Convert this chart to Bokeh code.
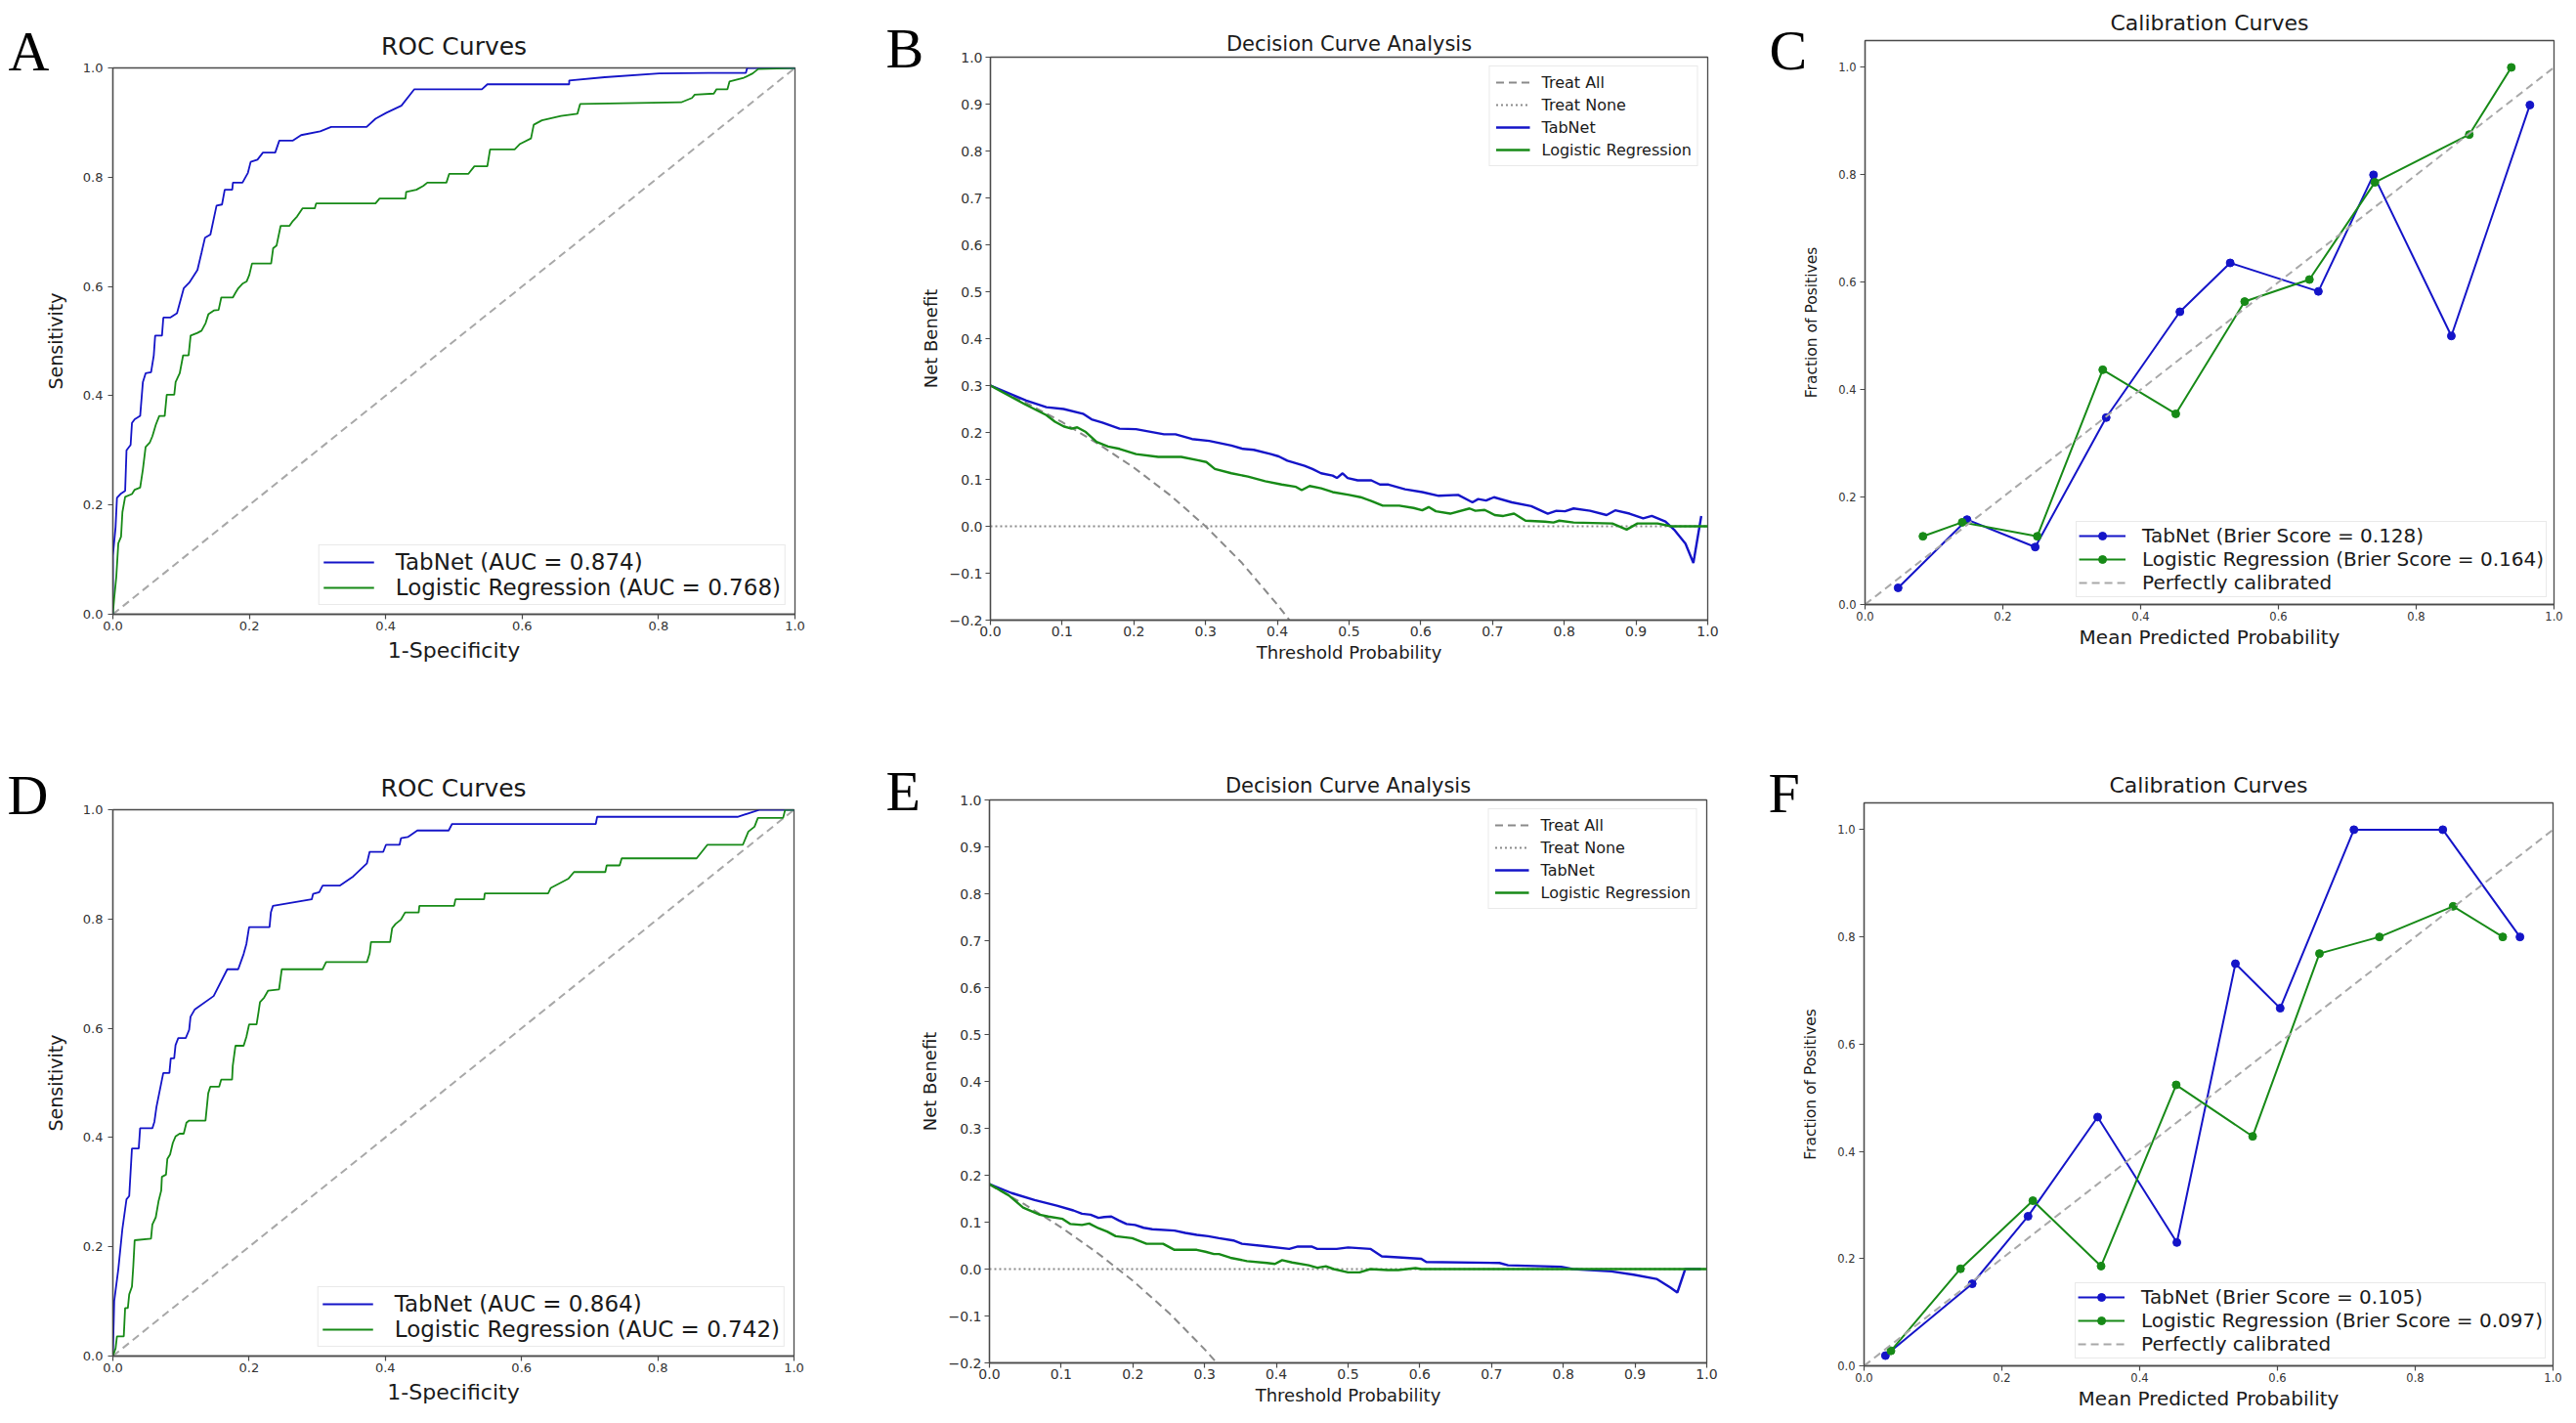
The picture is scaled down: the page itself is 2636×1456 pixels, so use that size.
from bokeh.plotting import figure
from bokeh.layouts import column, row
from bokeh.models import FixedTicker, CustomJSTickFormatter, Label, Range1d
from bokeh.embed import file_html
from bokeh.resources import INLINE

FONT = "DejaVu Sans"
SERIF = "Liberation Serif"
BLUE = "#1414c8"
GREEN = "#178a17"
GRAY = "#8a8a8a"
LIGHTGRAY = "#a8a8a8"
AXC = "#4a4a4a"

# ---------------- data ----------------
# Panel A: ROC (training)
rocA_tab_fpr = [0.000, 0.000, 0.004, 0.006, 0.012, 0.018, 0.020, 0.026, 0.028, 0.032,
                0.040, 0.044, 0.048, 0.056, 0.060, 0.062, 0.072, 0.074, 0.084, 0.094,
                0.104, 0.112, 0.124, 0.130, 0.135, 0.143, 0.152, 0.160, 0.164, 0.175,
                0.176, 0.190, 0.198, 0.202, 0.212, 0.220, 0.238, 0.244, 0.264, 0.276,
                0.304, 0.320, 0.372, 0.385, 0.401, 0.423, 0.442, 0.541, 0.549, 0.669,
                0.669, 0.721, 0.801, 0.873, 0.928, 0.930, 1.000]
rocA_tab_tpr = [0.000, 0.107, 0.160, 0.213, 0.221, 0.226, 0.300, 0.310, 0.350, 0.357,
                0.363, 0.425, 0.441, 0.443, 0.474, 0.510, 0.510, 0.543, 0.543, 0.551,
                0.597, 0.607, 0.630, 0.662, 0.689, 0.695, 0.748, 0.750, 0.777, 0.777,
                0.790, 0.790, 0.808, 0.828, 0.832, 0.845, 0.845, 0.867, 0.867, 0.877,
                0.884, 0.892, 0.892, 0.907, 0.918, 0.931, 0.961, 0.961, 0.970, 0.970,
                0.977, 0.983, 0.990, 0.991, 0.991, 1.000, 1.000]
rocA_lr_fpr = [0.000, 0.002, 0.005, 0.008, 0.012, 0.014, 0.018, 0.028, 0.032, 0.040,
               0.044, 0.048, 0.054, 0.058, 0.063, 0.068, 0.076, 0.079, 0.090, 0.092,
               0.098, 0.103, 0.111, 0.114, 0.124, 0.130, 0.136, 0.140, 0.148, 0.155,
               0.159, 0.176, 0.180, 0.184, 0.190, 0.196, 0.200, 0.204, 0.232, 0.235,
               0.240, 0.246, 0.259, 0.264, 0.270, 0.278, 0.296, 0.298, 0.385, 0.391,
               0.429, 0.430, 0.445, 0.455, 0.461, 0.489, 0.493, 0.521, 0.530, 0.549,
               0.553, 0.589, 0.597, 0.613, 0.617, 0.629, 0.657, 0.681, 0.685, 0.833,
               0.849, 0.853, 0.881, 0.885, 0.901, 0.904, 0.925, 0.938, 0.946, 1.000]
rocA_lr_tpr = [0.000, 0.030, 0.068, 0.130, 0.142, 0.187, 0.215, 0.220, 0.228, 0.232,
               0.265, 0.306, 0.314, 0.326, 0.347, 0.363, 0.363, 0.402, 0.402, 0.425,
               0.441, 0.474, 0.474, 0.510, 0.515, 0.519, 0.533, 0.549, 0.556, 0.557,
               0.580, 0.580, 0.589, 0.597, 0.605, 0.609, 0.621, 0.642, 0.642, 0.670,
               0.675, 0.711, 0.711, 0.720, 0.728, 0.743, 0.743, 0.752, 0.752, 0.761,
               0.761, 0.773, 0.777, 0.784, 0.790, 0.790, 0.806, 0.806, 0.820, 0.820,
               0.851, 0.851, 0.861, 0.871, 0.896, 0.904, 0.912, 0.916, 0.934, 0.937,
               0.945, 0.951, 0.953, 0.961, 0.961, 0.975, 0.982, 0.990, 0.998, 1.000]

# Panel D: ROC (validation)
rocD_tab_fpr = [0.000, 0.002, 0.008, 0.014, 0.020, 0.024, 0.028, 0.038, 0.040, 0.058,
                0.061, 0.064, 0.074, 0.083, 0.085, 0.090, 0.092, 0.096, 0.107, 0.112,
                0.114, 0.120, 0.148, 0.168, 0.184, 0.192, 0.196, 0.200, 0.230, 0.232,
                0.235, 0.292, 0.294, 0.303, 0.308, 0.333, 0.353, 0.373, 0.377, 0.397,
                0.401, 0.421, 0.423, 0.433, 0.447, 0.493, 0.498, 0.709, 0.711, 0.917,
                0.950, 1.000]
rocD_tab_tpr = [0.000, 0.101, 0.159, 0.233, 0.287, 0.293, 0.380, 0.380, 0.417, 0.417,
                0.429, 0.456, 0.518, 0.518, 0.545, 0.545, 0.569, 0.582, 0.582, 0.597,
                0.621, 0.634, 0.659, 0.708, 0.708, 0.736, 0.754, 0.785, 0.785, 0.812,
                0.824, 0.836, 0.846, 0.849, 0.861, 0.861, 0.878, 0.902, 0.923, 0.923,
                0.936, 0.936, 0.948, 0.950, 0.962, 0.962, 0.974, 0.974, 0.987, 0.987,
                1.000, 1.000]
rocD_lr_fpr = [0.000, 0.004, 0.006, 0.016, 0.018, 0.022, 0.024, 0.028, 0.030, 0.032,
               0.056, 0.058, 0.063, 0.067, 0.071, 0.072, 0.078, 0.080, 0.084, 0.088,
               0.092, 0.098, 0.104, 0.108, 0.112, 0.136, 0.140, 0.143, 0.156, 0.159,
               0.175, 0.176, 0.180, 0.192, 0.196, 0.200, 0.211, 0.214, 0.216, 0.222,
               0.228, 0.244, 0.248, 0.308, 0.313, 0.373, 0.377, 0.379, 0.407, 0.410,
               0.415, 0.423, 0.429, 0.449, 0.450, 0.501, 0.503, 0.545, 0.546, 0.639,
               0.643, 0.669, 0.677, 0.723, 0.725, 0.744, 0.747, 0.857, 0.873, 0.925,
               0.933, 0.942, 0.947, 0.984, 0.987, 1.000]
rocD_lr_tpr = [0.000, 0.014, 0.036, 0.036, 0.088, 0.088, 0.113, 0.127, 0.165, 0.212,
               0.215, 0.241, 0.254, 0.283, 0.303, 0.328, 0.332, 0.361, 0.369, 0.390,
               0.402, 0.407, 0.407, 0.427, 0.431, 0.431, 0.481, 0.493, 0.493, 0.506,
               0.506, 0.531, 0.568, 0.568, 0.584, 0.607, 0.607, 0.631, 0.648, 0.656,
               0.669, 0.671, 0.708, 0.708, 0.721, 0.721, 0.737, 0.758, 0.758, 0.783,
               0.791, 0.799, 0.812, 0.812, 0.824, 0.824, 0.836, 0.836, 0.847, 0.847,
               0.857, 0.874, 0.886, 0.886, 0.898, 0.898, 0.911, 0.911, 0.936, 0.936,
               0.960, 0.969, 0.985, 0.985, 1.000, 1.000]
roc_diag = [0.0, 1.0]

# Panel B: decision curves (training)
dcaB_all_x = [0.000, 0.050, 0.100, 0.150, 0.200, 0.250, 0.300, 0.350, 0.400, 0.417]
dcaB_all_y = [0.300, 0.263, 0.222, 0.176, 0.125, 0.067, 0.000, -0.077, -0.167, -0.200]
dcaB_tab_x = [0.000, 0.050, 0.078, 0.102, 0.129, 0.141, 0.156, 0.180, 0.203, 0.242,
              0.258, 0.281, 0.305, 0.336, 0.352, 0.367, 0.391, 0.402, 0.414, 0.438,
              0.449, 0.461, 0.477, 0.483, 0.491, 0.498, 0.512, 0.531, 0.543, 0.555,
              0.578, 0.602, 0.625, 0.652, 0.672, 0.680, 0.691, 0.702, 0.727, 0.754,
              0.777, 0.789, 0.801, 0.813, 0.836, 0.859, 0.871, 0.891, 0.910, 0.922,
              0.941, 0.953, 0.969, 0.980, 0.991]
dcaB_tab_y = [0.300, 0.268, 0.254, 0.250, 0.240, 0.228, 0.221, 0.208, 0.207, 0.196,
              0.196, 0.186, 0.182, 0.172, 0.165, 0.163, 0.154, 0.149, 0.140, 0.129,
              0.122, 0.113, 0.108, 0.103, 0.113, 0.103, 0.098, 0.098, 0.089, 0.089,
              0.079, 0.073, 0.065, 0.067, 0.051, 0.058, 0.055, 0.062, 0.051, 0.043,
              0.027, 0.033, 0.032, 0.038, 0.033, 0.024, 0.034, 0.027, 0.017, 0.022,
              0.010, -0.007, -0.037, -0.078, 0.022]
dcaB_lr_x = [0.000, 0.047, 0.078, 0.090, 0.102, 0.113, 0.121, 0.133, 0.148, 0.164,
             0.180, 0.203, 0.234, 0.266, 0.289, 0.301, 0.313, 0.336, 0.359, 0.383,
             0.406, 0.426, 0.434, 0.445, 0.461, 0.477, 0.500, 0.516, 0.531, 0.547,
             0.570, 0.590, 0.602, 0.611, 0.621, 0.641, 0.668, 0.676, 0.689, 0.703,
             0.715, 0.730, 0.746, 0.773, 0.785, 0.793, 0.813, 0.867, 0.887, 0.902,
             0.930, 0.949, 1.000]
dcaB_lr_y = [0.300, 0.261, 0.237, 0.223, 0.213, 0.208, 0.211, 0.201, 0.180, 0.170,
             0.165, 0.154, 0.148, 0.148, 0.141, 0.137, 0.122, 0.113, 0.106, 0.096,
             0.089, 0.084, 0.077, 0.086, 0.081, 0.073, 0.067, 0.062, 0.054, 0.044,
             0.044, 0.039, 0.034, 0.041, 0.032, 0.027, 0.038, 0.033, 0.035, 0.024,
             0.022, 0.027, 0.012, 0.010, 0.008, 0.012, 0.008, 0.006, -0.007, 0.006,
             0.006, 0.000, 0.000]

# Panel E: decision curves (validation)
dcaE_all_x = [0.000, 0.050, 0.100, 0.150, 0.200, 0.250, 0.300, 0.317]
dcaE_all_y = [0.180, 0.137, 0.089, 0.035, -0.025, -0.093, -0.171, -0.200]
dcaE_tab_x = [0.000, 0.031, 0.063, 0.094, 0.117, 0.129, 0.141, 0.152, 0.160, 0.170,
              0.180, 0.191, 0.203, 0.215, 0.227, 0.258, 0.273, 0.289, 0.305, 0.320,
              0.340, 0.352, 0.383, 0.418, 0.430, 0.449, 0.457, 0.484, 0.500, 0.531,
              0.547, 0.570, 0.602, 0.609, 0.711, 0.723, 0.797, 0.813, 0.867, 0.898,
              0.930, 0.949, 0.959, 0.970, 0.992]
dcaE_tab_y = [0.181, 0.162, 0.147, 0.135, 0.125, 0.118, 0.116, 0.109, 0.111, 0.112,
              0.104, 0.096, 0.094, 0.088, 0.085, 0.082, 0.077, 0.073, 0.070, 0.066,
              0.061, 0.054, 0.049, 0.043, 0.048, 0.048, 0.043, 0.043, 0.046, 0.043,
              0.027, 0.025, 0.022, 0.015, 0.013, 0.008, 0.005, 0.000, -0.005, -0.012,
              -0.021, -0.039, -0.050, 0.000, 0.000]
dcaE_lr_x = [0.000, 0.027, 0.047, 0.070, 0.082, 0.102, 0.113, 0.129, 0.139, 0.152,
             0.164, 0.176, 0.199, 0.219, 0.242, 0.258, 0.289, 0.301, 0.313, 0.320,
             0.336, 0.359, 0.387, 0.398, 0.408, 0.422, 0.445, 0.457, 0.469, 0.480,
             0.500, 0.516, 0.531, 0.555, 0.570, 0.594, 0.602, 1.000]
dcaE_lr_y = [0.181, 0.157, 0.131, 0.116, 0.112, 0.107, 0.096, 0.094, 0.097, 0.087,
             0.080, 0.070, 0.066, 0.054, 0.054, 0.041, 0.041, 0.037, 0.032, 0.032,
             0.024, 0.017, 0.013, 0.011, 0.019, 0.014, 0.008, 0.003, 0.006, 0.000,
             -0.007, -0.007, 0.000, -0.002, -0.002, 0.002, 0.000, 0.000]
treat_none_x = [0.0, 1.0]
treat_none_y = [0.0, 0.0]

# Panel C / F: calibration
calC_tab_x = [0.048, 0.148, 0.247, 0.350, 0.457, 0.530, 0.658, 0.738, 0.851, 0.965]
calC_tab_y = [0.031, 0.158, 0.107, 0.348, 0.545, 0.636, 0.583, 0.800, 0.500, 0.930]
calC_lr_x = [0.084, 0.141, 0.250, 0.345, 0.451, 0.551, 0.645, 0.740, 0.877, 0.938]
calC_lr_y = [0.127, 0.153, 0.127, 0.437, 0.355, 0.564, 0.605, 0.786, 0.875, 1.000]
calF_tab_x = [0.031, 0.157, 0.238, 0.339, 0.454, 0.539, 0.604, 0.711, 0.840, 0.952]
calF_tab_y = [0.019, 0.153, 0.279, 0.464, 0.230, 0.750, 0.667, 1.000, 1.000, 0.800]
calF_lr_x = [0.039, 0.140, 0.245, 0.344, 0.453, 0.564, 0.661, 0.748, 0.855, 0.927]
calF_lr_y = [0.028, 0.181, 0.308, 0.186, 0.524, 0.428, 0.769, 0.800, 0.857, 0.800]
cal_diag = [0.0, 1.0]

# ticks / labels
ticks_01_02 = [0.0, 0.2, 0.4, 0.6, 0.8, 1.0]
ticks_01_01 = [0.0, 0.1, 0.2, 0.3, 0.4, 0.5, 0.6, 0.7, 0.8, 0.9, 1.0]
ticks_dca_y = [-0.2, -0.1, 0.0, 0.1, 0.2, 0.3, 0.4, 0.5, 0.6, 0.7, 0.8, 0.9, 1.0]

auc_A = {"TabNet": "0.874", "Logistic Regression": "0.768"}
auc_D = {"TabNet": "0.864", "Logistic Regression": "0.742"}
brier_C = {"TabNet": "0.128", "Logistic Regression": "0.164"}
brier_F = {"TabNet": "0.105", "Logistic Regression": "0.097"}

FMT_CODE = """
if (Math.abs(tick) < 1e-9) { return '0.0'; }
return (tick < 0 ? '\u2212' : '') + Math.abs(tick).toFixed(1);
"""


def base_fig(w, h, bl, br, bt, bb, xr, yr, xt, yt, title, tsize, tstand,
             xl, yl, xls, yls, tks, xl_st, yl_st, xtl_st, ytl_st, letter, lx_px, ly_px):
    p = figure(width=w, height=h, min_border_left=bl, min_border_right=br,
               min_border_top=bt, min_border_bottom=bb,
               x_range=Range1d(*xr), y_range=Range1d(*yr),
               output_backend="svg", toolbar_location=None, title=title)
    p.title.align = "center"
    p.title.text_font = FONT
    p.title.text_font_size = f"{tsize}px"
    p.title.text_font_style = "normal"
    p.title.text_color = "#1a1a1a"
    p.title.standoff = tstand
    p.xgrid.visible = False
    p.ygrid.visible = False
    p.outline_line_color = AXC
    p.outline_line_width = 1.3
    p.background_fill_color = "white"
    p.border_fill_color = "white"
    p.xaxis.ticker = FixedTicker(ticks=xt)
    p.yaxis.ticker = FixedTicker(ticks=yt)
    for ax, lab, ls, lst, tst in ((p.xaxis[0], xl, xls, xl_st, xtl_st),
                                  (p.yaxis[0], yl, yls, yl_st, ytl_st)):
        ax.formatter = CustomJSTickFormatter(code=FMT_CODE)
        ax.axis_label = lab
        ax.axis_label_text_font = FONT
        ax.axis_label_text_font_size = f"{ls}px"
        ax.axis_label_text_font_style = "normal"
        ax.axis_label_text_color = "#1a1a1a"
        ax.axis_label_standoff = lst
        ax.major_label_text_font = FONT
        ax.major_label_text_font_size = f"{tks}px"
        ax.major_label_text_color = "#333333"
        ax.major_label_standoff = tst
        ax.axis_line_color = AXC
        ax.axis_line_width = 1.3
        ax.major_tick_line_color = AXC
        ax.major_tick_line_width = 1.2
        ax.major_tick_in = 0
        ax.major_tick_out = 5
        ax.minor_tick_line_color = None
    # panel letter in the left side panel (outside the y axis), so it is not clipped
    p.add_layout(Label(x=lx_px, y=ly_px, x_units="screen", y_units="screen", text=letter,
                       text_font=SERIF, text_font_size="58px", text_color="black",
                       text_baseline="alphabetic", text_align="left"), "left")
    return p


def style_legend(p, loc, size, glyph_w, standoff, padding, spacing, margin):
    lg = p.legend[0]
    lg.location = loc
    lg.label_text_font = FONT
    lg.label_text_font_size = f"{size}px"
    lg.label_text_color = "#1a1a1a"
    lg.glyph_width = glyph_w
    lg.label_standoff = standoff
    lg.padding = padding
    lg.spacing = spacing
    lg.margin = margin
    lg.border_line_color = "#d4d4d4"
    lg.border_line_width = 1.2
    lg.background_fill_alpha = 0.85


def roc_fig(bl, bt, bb, h, tstand, letter, lx, ly, tab_f, tab_t, lr_f, lr_t, auc):
    p = base_fig(bl + 700 + 75, h, bl, 75, bt, bb, (0, 1), (0, 1), ticks_01_02, ticks_01_02,
                 "ROC Curves", 25, tstand, "1-Specificity", "Sensitivity", 22, 19, 13,
                 5, 14, 2, 5, letter, lx, ly)
    p.line(roc_diag, roc_diag, line_color=LIGHTGRAY, line_width=2, line_dash="8 5")
    p.line(tab_f, tab_t, line_color=BLUE, line_width=1.8,
           legend_label=f"TabNet (AUC = {auc['TabNet']})")
    p.line(lr_f, lr_t, line_color=GREEN, line_width=1.8,
           legend_label=f"Logistic Regression (AUC = {auc['Logistic Regression']})")
    style_legend(p, "bottom_right", 23, 52, 22, 4, 0, 9)
    return p


def dca_fig(bt, bb, h, tstand, letter, lx, ly, all_x, all_y, tab_x, tab_y, lr_x, lr_y):
    p = base_fig(900, h, 125, 41, bt, bb, (0, 1), (-0.2, 1.0), ticks_01_01, ticks_dca_y,
                 "Decision Curve Analysis", 21, tstand, "Threshold Probability", "Net Benefit",
                 18, 18, 14, 3, 6, 1, 3, letter, lx, ly)
    p.line(all_x, all_y, line_color=GRAY, line_width=2, line_dash="8 5", legend_label="Treat All")
    p.line(treat_none_x, treat_none_y, line_color=GRAY, line_width=1.8, line_dash="2 3",
           legend_label="Treat None")
    p.line(tab_x, tab_y, line_color=BLUE, line_width=2.4, legend_label="TabNet")
    p.line(lr_x, lr_y, line_color=GREEN, line_width=2.4, legend_label="Logistic Regression")
    style_legend(p, "top_right", 16, 35, 12, 6, 3, 9)
    return p


def cal_fig(bt, bb, h, tstand, letter, lx, ly, tab_x, tab_y, lr_x, lr_y, brier):
    p = base_fig(840, h, 120, 15, bt, bb, (0, 1), (0, 1.05), ticks_01_02, ticks_01_02,
                 "Calibration Curves", 22, tstand, "Mean Predicted Probability",
                 "Fraction of Positives", 20, 15.5, 11.5, 2, 15, 2, 4, letter, lx, ly)
    lab_t = f"TabNet (Brier Score = {brier['TabNet']})"
    lab_l = f"Logistic Regression (Brier Score = {brier['Logistic Regression']})"
    p.line(tab_x, tab_y, line_color=BLUE, line_width=2, legend_label=lab_t)
    p.scatter(tab_x, tab_y, size=8, fill_color=BLUE, line_color=BLUE, legend_label=lab_t)
    p.line(lr_x, lr_y, line_color=GREEN, line_width=2, legend_label=lab_l)
    p.scatter(lr_x, lr_y, size=8, fill_color=GREEN, line_color=GREEN, legend_label=lab_l)
    p.line(cal_diag, cal_diag, line_color=LIGHTGRAY, line_width=2, line_dash="8 5",
           legend_label="Perfectly calibrated")
    style_legend(p, "bottom_right", 20, 48, 17, 2, 0, 7)
    return p


# row 1 figures are 728 tall, row 2 figures 720 tall
pA = roc_fig(113, 69, 100, 728, 16, "A", 8, 576,
             rocA_tab_fpr, rocA_tab_tpr, rocA_lr_fpr, rocA_lr_tpr, auc_A)
pB = dca_fig(58, 94, 728, 4, "B", 7, 585, dcaB_all_x, dcaB_all_y, dcaB_tab_x, dcaB_tab_y,
             dcaB_lr_x, dcaB_lr_y)
pC = cal_fig(41, 110, 728, 12, "C", 7, 567, calC_tab_x, calC_tab_y, calC_lr_x, calC_lr_y, brier_C)
pD = roc_fig(112, 100, 61, 720, 15, "D", 7, 574,
             rocD_tab_fpr, rocD_tab_tpr, rocD_lr_fpr, rocD_lr_tpr, auc_D)
pE = dca_fig(90, 54, 720, 5, "E", 4, 585, dcaE_all_x, dcaE_all_y, dcaE_tab_x, dcaE_tab_y,
             dcaE_lr_x, dcaE_lr_y)
pF = cal_fig(93, 51, 720, 11, "F", 0, 586, calF_tab_x, calF_tab_y, calF_lr_x, calF_lr_y, brier_F)

# each plot wrapped in its own column so the row does not align their frames
layout = column(row(column(pA), column(pB), column(pC)),
                row(column(pD), column(pE), column(pF)))
open("out.html", "w").write(file_html(layout, INLINE))
